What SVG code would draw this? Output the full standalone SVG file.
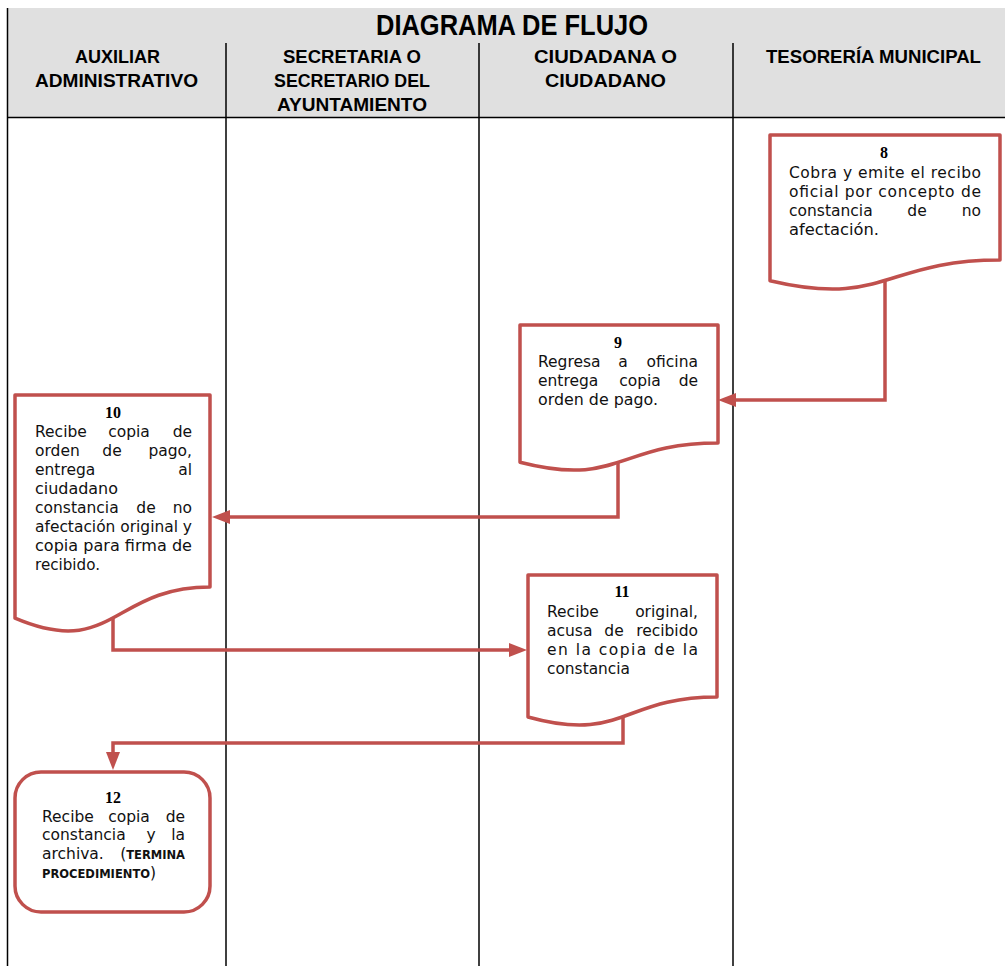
<svg xmlns="http://www.w3.org/2000/svg" width="1005" height="966" viewBox="0 0 1005 966">
<style>
.hdr{font-family:"Liberation Sans",Arial,sans-serif;font-weight:bold;font-size:18px;fill:#000;text-anchor:middle}
.title{font-family:"Liberation Sans",Arial,sans-serif;font-weight:bold;font-size:29px;fill:#000;text-anchor:middle}
.grid{stroke:#000;stroke-width:1.5;fill:none}
.shape{fill:#fff;stroke:#c0504d;stroke-width:3.5;stroke-linejoin:round}
.conn{fill:none;stroke:#c0504d;stroke-width:3.5}
.num{font-family:"Liberation Serif","Times New Roman",serif;font-weight:bold;font-size:16px;fill:#000;text-anchor:middle}
.t{font-family:"DejaVu Sans",Verdana,sans-serif;font-size:15.5px;fill:#111}
.m{text-anchor:middle}
.e{text-anchor:end}
.b{font-weight:bold;font-size:11.5px}
</style>
<defs>
<marker id="arr" markerUnits="userSpaceOnUse" markerWidth="20" markerHeight="16" refX="10" refY="7" orient="auto">
<path d="M0,0 L18,7 L0,14 Z" fill="#c0504d"/>
</marker>
</defs>
<g id="table">
<rect x="8" y="8" width="997" height="109" fill="#e0e0e0"/>
<line class="grid" x1="7.5" y1="8" x2="7.5" y2="966"/>
<line class="grid" x1="7" y1="117.5" x2="1005" y2="117.5"/>
<line class="grid" x1="226" y1="43" x2="226" y2="966"/>
<line class="grid" x1="479" y1="43" x2="479" y2="966"/>
<line class="grid" x1="733" y1="43" x2="733" y2="966"/>
<text class="title" x="512" y="35" textLength="272" lengthAdjust="spacingAndGlyphs">DIAGRAMA DE FLUJO</text>
<text class="hdr" x="117.5" y="63" textLength="85" lengthAdjust="spacingAndGlyphs">AUXILIAR</text>
<text class="hdr" x="116.5" y="87" textLength="163" lengthAdjust="spacingAndGlyphs">ADMINISTRATIVO</text>
<text class="hdr" x="352" y="63" textLength="138" lengthAdjust="spacingAndGlyphs">SECRETARIA O</text>
<text class="hdr" x="352" y="87" textLength="156" lengthAdjust="spacingAndGlyphs">SECRETARIO DEL</text>
<text class="hdr" x="352" y="111" textLength="150" lengthAdjust="spacingAndGlyphs">AYUNTAMIENTO</text>
<text class="hdr" x="605.5" y="63" textLength="143" lengthAdjust="spacingAndGlyphs">CIUDADANA O</text>
<text class="hdr" x="605.5" y="87" textLength="121" lengthAdjust="spacingAndGlyphs">CIUDADANO</text>
<text class="hdr" x="873.5" y="63" textLength="215" lengthAdjust="spacingAndGlyphs">TESORERÍA MUNICIPAL</text>
</g>
<g id="connectors">
<path class="conn" d="M885,275 V400 H726" marker-end="url(#arr)"/>
<path class="conn" d="M618,455 V517 H220" marker-end="url(#arr)"/>
<path class="conn" d="M113,612 V650 H519" marker-end="url(#arr)"/>
<path class="conn" d="M623,710 V743 H113 V762" marker-end="url(#arr)"/>
</g>
<g id="node8">
<path class="shape" d="M770,135 H1000 V260 C885,260 885,307.8 770,280.7 Z"/>
<text class="num" x="884" y="158">8</text>
<text class="t" x="789" y="178" textLength="192" lengthAdjust="spacing">Cobra y emite el recibo</text>
<text class="t" x="789" y="197" textLength="192" lengthAdjust="spacing">oficial por concepto de</text>
<text class="t" x="789" y="216">constancia</text><text class="t m" x="917" y="216">de</text><text class="t e" x="981" y="216">no</text>
<text class="t" x="789" y="235" textLength="90" lengthAdjust="spacingAndGlyphs">afectación.</text>
</g>
<g id="node9">
<path class="shape" d="M520,325 H718 V443 C619,443 619,487.8 520,462.3 Z"/>
<text class="num" x="618" y="348">9</text>
<text class="t" x="538" y="367">Regresa</text><text class="t m" x="623" y="367">a</text><text class="t e" x="698" y="367">oficina</text>
<text class="t" x="538" y="386">entrega</text><text class="t m" x="640" y="386">copia</text><text class="t e" x="698" y="386">de</text>
<text class="t" x="538" y="405" textLength="120" lengthAdjust="spacingAndGlyphs">orden de pago.</text>
</g>
<g id="node10">
<path class="shape" d="M15,395 H210 V587 C112.5,587 112.5,659.7 15,618.2 Z"/>
<text class="num" x="113" y="418">10</text>
<text class="t" x="35" y="437">Recibe</text><text class="t m" x="129" y="437">copia</text><text class="t e" x="192" y="437">de</text>
<text class="t" x="35" y="456">orden</text><text class="t m" x="112" y="456">de</text><text class="t e" x="192" y="456">pago,</text>
<text class="t" x="35" y="475">entrega</text><text class="t e" x="192" y="475">al</text>
<text class="t" x="35" y="494" textLength="83" lengthAdjust="spacingAndGlyphs">ciudadano</text>
<text class="t" x="35" y="513">constancia</text><text class="t m" x="146" y="513">de</text><text class="t e" x="192" y="513">no</text>
<text class="t" x="35" y="532" textLength="157" lengthAdjust="spacingAndGlyphs">afectación original y</text>
<text class="t" x="35" y="551" textLength="157" lengthAdjust="spacingAndGlyphs">copia para firma de</text>
<text class="t" x="35" y="570" textLength="65" lengthAdjust="spacingAndGlyphs">recibido.</text>
</g>
<g id="node11">
<path class="shape" d="M528,575 H717 V697 C622.5,697 622.5,743.3 528,717 Z"/>
<text class="num" x="622" y="597">11</text>
<text class="t" x="547" y="617">Recibe</text><text class="t e" x="698" y="617">original,</text>
<text class="t" x="547" y="636">acusa</text><text class="t m" x="614" y="636">de</text><text class="t e" x="698" y="636">recibido</text>
<text class="t" x="547" y="655" textLength="151" lengthAdjust="spacing">en la copia de la</text>
<text class="t" x="547" y="674" textLength="83" lengthAdjust="spacingAndGlyphs">constancia</text>
</g>
<g id="node12">
<rect class="shape" x="15" y="772" width="195" height="140" rx="26" ry="26"/>
<text class="num" x="113" y="803">12</text>
<text class="t" x="42" y="822">Recibe</text><text class="t m" x="129" y="822">copia</text><text class="t e" x="185" y="822">de</text>
<text class="t" x="42" y="840">constancia</text><text class="t m" x="151" y="840">y</text><text class="t e" x="185" y="840">la</text>
<text class="t" x="42" y="859">archiva.</text><text class="t e" x="185" y="859">(<tspan class="b">TERMINA</tspan></text>
<text class="t" x="42" y="878"><tspan class="b">PROCEDIMIENTO</tspan>)</text>
</g>
</svg>
